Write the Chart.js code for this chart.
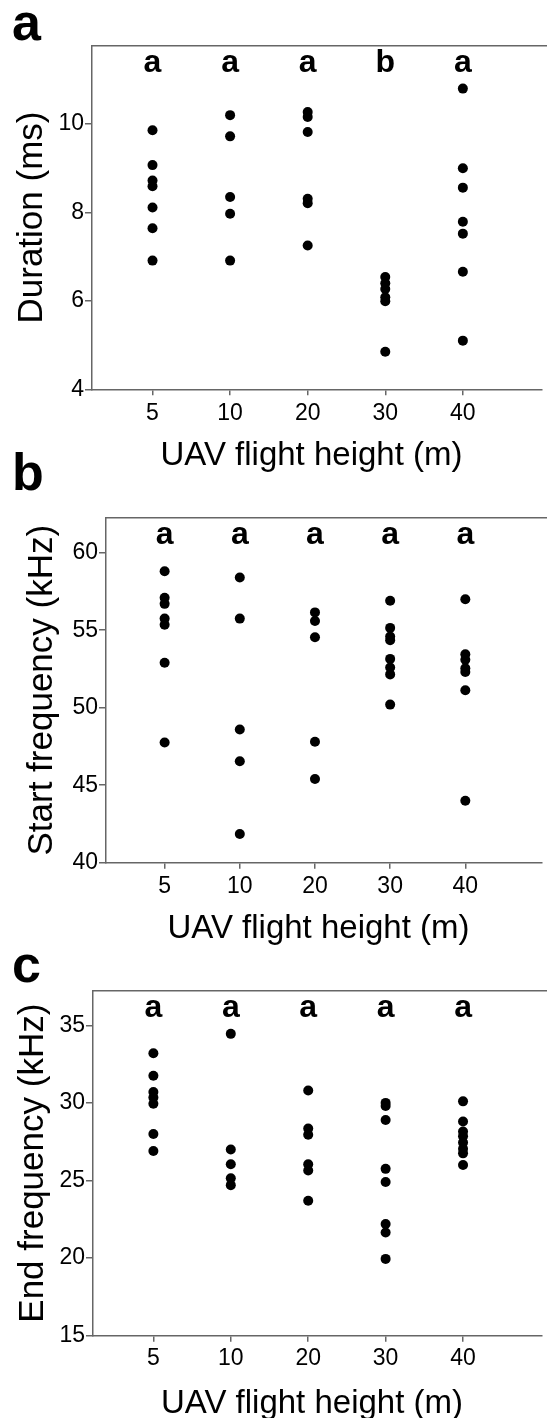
<!DOCTYPE html>
<html>
<head>
<meta charset="utf-8">
<script src="https://cdn.jsdelivr.net/npm/chart.js@4.4.1/dist/chart.umd.min.js"></script>
<style>
  html, body { margin: 0; padding: 0; background: #fff; overflow: hidden; }
  .panel { position: absolute; left: 0; }
</style>
</head>
<body>
<canvas id="chartA" class="panel" width="547" height="475" style="top:0px"></canvas>
<canvas id="chartB" class="panel" width="547" height="510" style="top:440px"></canvas>
<canvas id="chartC" class="panel" width="547" height="468" style="top:950px"></canvas>
<script>
'use strict';

// Data
const heights = ['5', '10', '20', '30', '40'];
const xTitle = 'UAV flight height (m)';

// a: call duration
const durationVals = [
    [9.86, 9.07, 8.72, 8.59, 8.11, 7.64, 6.91],
    [10.2, 9.72, 8.35, 7.97, 6.91],
    [10.27, 10.16, 9.82, 8.31, 8.21, 7.25],
    [6.54, 6.4, 6.27, 6.08, 5.99, 4.85],
    [10.8, 9.0, 8.56, 7.79, 7.52, 6.66, 5.1],
];
const durationLetters = ['a', 'a', 'a', 'b', 'a'];
const durationTicks = [4, 6, 8, 10];

// b: start frequency
const startVals = [
    [58.8, 57.1, 56.7, 55.75, 55.35, 52.9, 47.75],
    [58.4, 55.75, 48.6, 46.55, 41.85],
    [56.15, 55.6, 54.55, 47.8, 45.4],
    [56.9, 55.15, 54.6, 54.35, 53.15, 52.6, 52.15, 50.2],
    [57.0, 53.45, 53.1, 52.55, 52.3, 51.13, 44.0],
];
const startLetters = ['a', 'a', 'a', 'a', 'a'];
const startTicks = [40, 45, 50, 55, 60];

// c: end frequency
const endVals = [
    [33.2, 31.75, 30.7, 30.35, 29.95, 28.0, 26.9],
    [34.45, 27.0, 26.05, 25.15, 24.7],
    [30.8, 28.35, 27.95, 26.05, 25.65, 23.7],
    [30.0, 29.8, 28.9, 25.75, 24.9, 22.2, 21.65, 19.95],
    [30.1, 28.8, 28.15, 27.85, 27.45, 27.05, 26.75, 26.0],
];
const endLetters = ['a', 'a', 'a', 'a', 'a'];
const endTicks = [15, 20, 25, 30, 35];

const FONT = '"Liberation Sans", Arial, Helvetica, sans-serif';
const AXIS_COLOR = '#666';

const toPoints = groups => groups.flatMap((vals, i) => vals.map(v => ({ x: i, y: v })));

// letters, x title, panel tag and the top frame line
const panelDecor = {
    id: 'panelDecor',
    afterDraw(chart, args, opts) {
        const { ctx, chartArea, scales } = chart;
        ctx.save();
        ctx.strokeStyle = AXIS_COLOR;
        ctx.lineWidth = 1.5;
        ctx.beginPath();
        ctx.moveTo(chartArea.left, chartArea.top);
        ctx.lineTo(chart.width, chartArea.top);
        ctx.stroke();

        ctx.fillStyle = '#000';
        ctx.textAlign = 'center';
        ctx.textBaseline = 'alphabetic';
        ctx.font = `bold 32px ${FONT}`;
        opts.letters.forEach((l, i) => {
            ctx.fillText(l, scales.x.getPixelForValue(i), chartArea.top + 26);
        });

        ctx.font = `33px ${FONT}`;
        ctx.fillText(xTitle, (chartArea.left + chart.width - 16) / 2, opts.xTitleY);

        ctx.textAlign = 'left';
        ctx.font = `bold 52px ${FONT}`;
        ctx.fillText(opts.tag, 12, opts.tagY);
        ctx.restore();
    },
};

const makePanel = function (id, p) {
    return new Chart(document.getElementById(id), {
        type: 'scatter',
        data: {
            datasets: [{
                data: toPoints(p.values),
                backgroundColor: '#000',
                borderWidth: 0,
                pointRadius: 5,
                pointHoverRadius: 5,
            }],
        },
        options: {
            responsive: false,
            animation: false,
            events: [],
            layout: { padding: { top: p.top, left: 0, right: 0, bottom: 0 } },
            plugins: {
                legend: { display: false },
                tooltip: { enabled: false },
                panelDecor: { letters: p.letters, tag: p.tag, tagY: p.tagY, xTitleY: p.xTitleY },
            },
            scales: {
                x: {
                    type: 'linear',
                    min: -0.78,
                    max: 5.02,
                    afterFit: s => { s.height = p.xHeight; },
                    afterBuildTicks: s => { s.ticks = heights.map((h, i) => ({ value: i })); },
                    ticks: {
                        callback: v => heights[v],
                        color: '#000',
                        font: { family: FONT, size: 23 },
                        padding: p.xPad,
                        maxRotation: 0,
                        autoSkip: false,
                    },
                    grid: { drawOnChartArea: false, drawTicks: true, tickLength: 6, color: AXIS_COLOR, lineWidth: 1.5 },
                    border: { color: AXIS_COLOR, width: 1.5 },
                },
                y: {
                    type: 'linear',
                    min: p.min,
                    max: p.max,
                    afterFit: s => { s.width = p.yWidth; },
                    afterBuildTicks: s => { s.ticks = p.ticks.map(v => ({ value: v })); },
                    ticks: {
                        color: '#000',
                        font: { family: FONT, size: 23 },
                        padding: 1,
                        autoSkip: false,
                    },
                    title: {
                        display: true,
                        text: p.yTitle,
                        color: '#000',
                        font: { family: FONT, size: 35 },
                        padding: { top: p.yTitlePad, bottom: 0 },
                    },
                    grid: { drawOnChartArea: false, drawTicks: true, tickLength: 7, color: AXIS_COLOR, lineWidth: 1.5 },
                    border: { color: AXIS_COLOR, width: 1.5 },
                },
            },
        },
        plugins: [panelDecor],
    });
};

makePanel('chartA', {
    values: durationVals, letters: durationLetters, ticks: durationTicks,
    yTitle: 'Duration (ms)', tag: 'a', min: 4, max: 11.77,
    top: 45.7, xHeight: 85.7, yWidth: 92, xPad: 5, yTitlePad: 11.5, tagY: 40, xTitleY: 465,
});

makePanel('chartB', {
    values: startVals, letters: startLetters, ticks: startTicks,
    yTitle: 'Start frequency (kHz)', tag: 'b', min: 40, max: 62.26,
    top: 77.7, xHeight: 87.3, yWidth: 106, xPad: 4, yTitlePad: 21.5, tagY: 50, xTitleY: 498,
});

makePanel('chartC', {
    values: endVals, letters: endLetters, ticks: endTicks,
    yTitle: 'End frequency (kHz)', tag: 'c', min: 15, max: 37.23,
    top: 40.7, xHeight: 82.3, yWidth: 93, xPad: 3, yTitlePad: 12.4, tagY: 32, xTitleY: 463.3,
});
</script>
</body>
</html>
